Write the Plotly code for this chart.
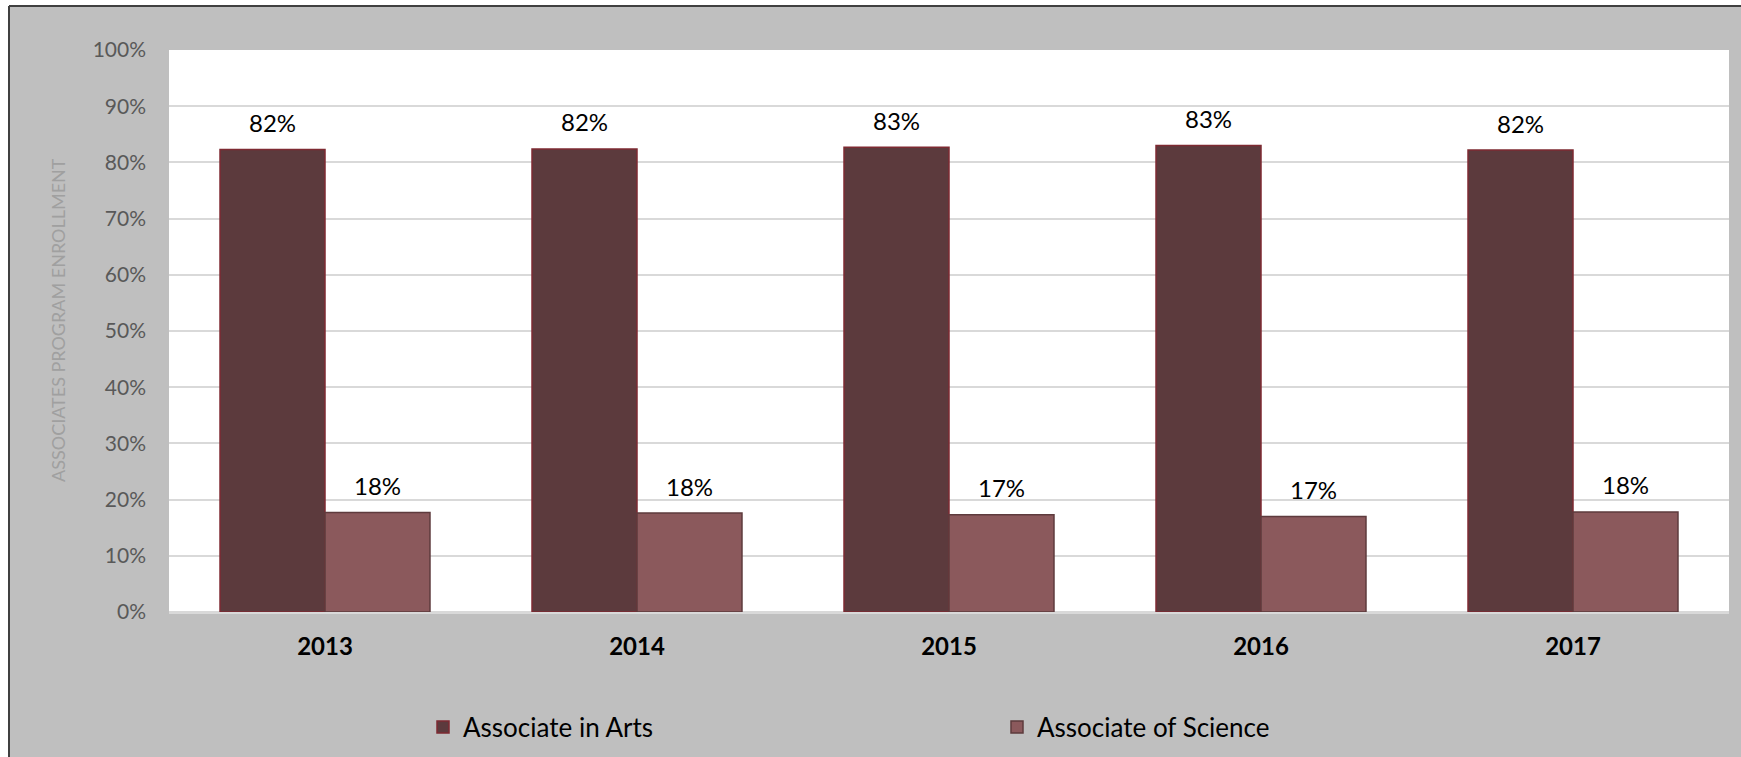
import plotly.graph_objects as go

years = ["2013", "2014", "2015", "2016", "2017"]
arts = [82.3, 82.4, 82.7, 83.0, 82.2]
science = [17.7, 17.6, 17.3, 17.0, 17.8]
series_names = ["Associate in Arts", "Associate of Science"]
y_ticks = [0, 10, 20, 30, 40, 50, 60, 70, 80, 90, 100]
y_tick_labels = [f"{t}%" for t in y_ticks]
y_title = "ASSOCIATES PROGRAM ENROLLMENT"

W, H = 1741, 757
ML, MR, MT, MB = 169, 12, 50, 145
PW = W - ML - MR
PH = H - MT - MB

FONT = "Lato, Liberation Sans, Arial, sans-serif"

fig = go.Figure()
fig.add_trace(go.Bar(
    x=years, y=arts, name=series_names[0],
    marker=dict(color="#5C3A3D", line=dict(color="#7E2A32", width=1.5)),
))
fig.add_trace(go.Bar(
    x=years, y=science, name=series_names[1],
    marker=dict(color="#8B595C", line=dict(color="#5E3B3D", width=1.5)),
))

bargap = 0.327
half_bar = (1 - bargap) / 4  # offset of each bar centre from category centre
annotations = []
for vals, sign in ((arts, -1), (science, 1)):
    for i, v in enumerate(vals):
        annotations.append(dict(
            x=i + sign * half_bar, y=v, xref="x", yref="y", text=f"{round(v)}%",
            showarrow=False, yshift=27, xanchor="center",
            yanchor="middle", font=dict(family=FONT, size=24, color="#000000"),
        ))

def px_to_paper_x(p):
    return (p - ML) / PW

def py_to_paper_y(p):
    return (H - MB - p) / PH

# y-axis title
annotations.append(dict(
    x=px_to_paper_x(58), y=py_to_paper_y(320), xref="paper", yref="paper",
    text=y_title, textangle=-90, showarrow=False, xanchor="center", yanchor="middle",
    font=dict(family=FONT, size=18, color="#A0A0A0"),
))

bx = px_to_paper_x(9)
by = py_to_paper_y(6)
shapes = [
    dict(type="rect", xref="paper", yref="paper", x0=-0.5, x1=1.5, y0=by, y1=1.5,
         fillcolor="#FFFFFF", line=dict(width=0), layer="below"),
    dict(type="rect", xref="paper", yref="paper", x0=-0.5, x1=bx, y0=-1, y1=1.5,
         fillcolor="#FFFFFF", line=dict(width=0), layer="below"),
    dict(type="line", xref="paper", yref="paper", x0=bx, x1=1.5, y0=by, y1=by,
         line=dict(color="#404040", width=2)),
    dict(type="line", xref="paper", yref="paper", x0=bx, x1=bx, y0=-1, y1=by,
         line=dict(color="#404040", width=2)),
]

fig.update_layout(
    width=W, height=H,
    margin=dict(l=ML, r=MR, t=MT, b=MB, autoexpand=False),
    paper_bgcolor="#BFBFBF",
    plot_bgcolor="#FFFFFF",
    barmode="group",
    bargap=bargap,
    bargroupgap=0,
    font=dict(family=FONT, color="#000000"),
    showlegend=True,
    legend=dict(
        orientation="h", x=px_to_paper_x(423), y=py_to_paper_y(727),
        xanchor="left", yanchor="middle",
        entrywidth=529, entrywidthmode="pixels",
        font=dict(family=FONT, size=26, color="#000000"),
        bgcolor="rgba(0,0,0,0)", traceorder="normal",
    ),
    annotations=annotations,
    shapes=shapes,
    xaxis=dict(
        type="category", range=[-0.5, len(years) - 0.5], autorange=False,
        showgrid=False, showline=True, linecolor="#D9D9D9", linewidth=2,
        ticks="", tickfont=dict(family=FONT, size=24, color="#000000", weight="bold"),
        ticklabelstandoff=12,
    ),
    yaxis=dict(
        range=[0, 100], autorange=False, tickvals=y_ticks, ticktext=y_tick_labels,
        showgrid=True, gridcolor="#D9D9D9", gridwidth=1.5,
        zeroline=True, zerolinecolor="#D9D9D9", zerolinewidth=2,
        showline=False, ticks="",
        tickfont=dict(family=FONT, size=21, color="#595959"),
        ticklabelstandoff=22,
    ),
)

fig.write_html("out.html", config={"displayModeBar": False},
               post_script="document.body.style.margin='0px';")
